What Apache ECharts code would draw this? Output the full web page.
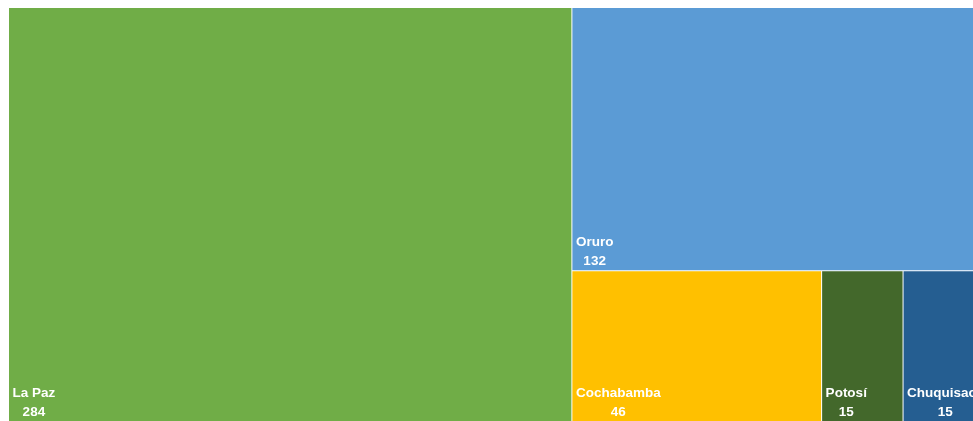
<!DOCTYPE html>
<html><head><meta charset="utf-8">
<script src="https://cdn.jsdelivr.net/npm/echarts@6/dist/echarts.min.js"></script>
<style>html,body{margin:0;padding:0;background:#fff}#c{width:973px;height:421px}</style>
</head><body><div id="c"></div>
<script>
const names = ['La Paz', 'Oruro', 'Cochabamba', 'Potosí', 'Chuquisaca'];
const values = [284, 132, 46, 15, 15];
const colors = ['#70AD47', '#5B9BD5', '#FFC000', '#43682B', '#255E91'];

const FONT_SIZE = 13.5;
const FONT_FAMILY = 'Liberation Sans';
const mctx = document.createElement('canvas').getContext('2d');
mctx.font = 'bold ' + FONT_SIZE + 'px "' + FONT_FAMILY + '"';
function blockWidth(i) {
  return Math.max(mctx.measureText(names[i]).width, mctx.measureText(String(values[i])).width);
}

const txt = {align: 'center', color: '#fff', fontFamily: FONT_FAMILY, fontWeight: 'bold', fontSize: FONT_SIZE, lineHeight: 19};

const chart = echarts.init(document.getElementById('c'), null, {renderer: 'canvas'});
chart.setOption({
  animation: false,
  series: [{
    type: 'treemap',
    left: 9, top: 8, width: 975, height: 414,
    roam: false, nodeClick: false,
    breadcrumb: {show: false},
    squareRatio: 1,
    sort: false,
    levels: [{itemStyle: {gapWidth: 1, borderWidth: 0, borderColor: '#fff'}}],
    label: {
      show: true,
      overflow: 'none',
      formatter: p => '{n|' + p.name + '}\n{v|' + p.value + '}',
      rich: {n: txt, v: txt}
    },
    labelLayout: function (p) {
      const i = names.indexOf(p.text.split('\n')[0]);
      const idx = i >= 0 ? i : p.dataIndex - 1;
      const w = idx >= 0 && idx < names.length ? blockWidth(idx) : 0;
      return {
        x: p.rect.x + 3.5 + w / 2,
        y: p.rect.y + p.rect.height - 43,
        align: 'center',
        verticalAlign: 'top'
      };
    },
    upperLabel: {show: false},
    data: names.map((n, i) => ({name: n, value: values[i], itemStyle: {color: colors[i]}}))
  }]
});
</script></body></html>
